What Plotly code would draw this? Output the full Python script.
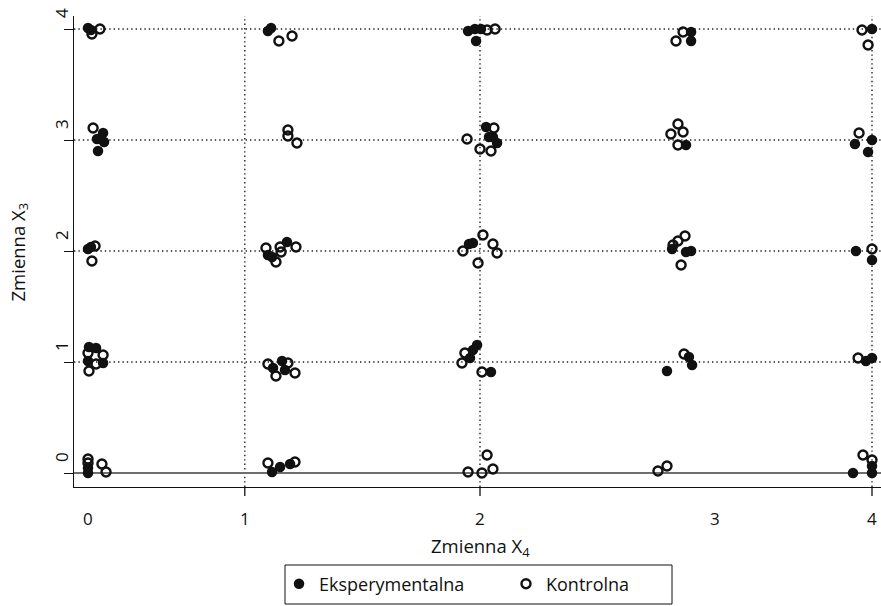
import plotly.graph_objects as go

# Jittered observations: X4 (horizontal) and X3 (vertical) for the two groups
eksp_x = [0.000, 0.015, 0.077, 0.046, 0.082, 0.051, 0.000, 0.015, 0.005, 0.041, 0.000, 0.077, 0.000, 0.000,
          0.918, 0.934, 0.918, 0.939, 1.015, 0.944, 0.990, 1.005, 0.939, 0.980, 1.031,
          1.939, 1.974, 2.005, 1.980, 2.031, 2.046, 2.066, 2.087, 1.944, 1.964, 1.985, 1.964, 1.949, 2.056,
          3.077, 3.077, 3.051, 2.980, 3.051, 3.077, 3.066, 3.082, 2.954,
          4.000, 3.913, 4.000, 3.980, 3.918, 4.000, 3.969, 4.000, 4.000, 4.000, 3.903]
eksp_y = [4.009, 3.991, 3.063, 3.009, 2.982, 2.901, 2.018, 2.036, 1.135, 1.126, 1.009, 0.991, 0.045, 0.000,
          3.982, 4.009, 1.964, 1.946, 2.081, 0.946, 1.009, 0.928, 0.009, 0.054, 0.081,
          3.982, 4.000, 4.000, 3.892, 3.117, 3.027, 3.027, 2.973, 2.063, 2.072, 1.153, 1.108, 1.036, 0.910,
          3.973, 3.892, 2.955, 2.018, 1.991, 2.000, 1.045, 0.973, 0.919,
          4.000, 2.964, 3.000, 2.892, 2.000, 1.919, 1.009, 1.036, 0.063, 0.000, 0.000]

kontr_x = [0.020, 0.061, 0.026, 0.036, 0.020, 0.000, 0.077, 0.041, 0.005, 0.000, 0.000, 0.071, 0.092,
           0.974, 1.041, 1.020, 1.020, 1.066, 0.908, 0.959, 0.980, 0.985, 1.061, 0.918, 0.959, 1.020, 1.056,
           0.918, 1.056,
           2.036, 2.077, 2.071, 1.934, 2.000, 2.056, 2.015, 1.913, 2.066, 2.087, 1.990, 1.923, 1.908, 2.010,
           2.036, 1.939, 2.010, 2.066,
           3.000, 3.036, 2.974, 3.010, 3.036, 3.010, 2.985, 3.010, 3.046, 3.026, 3.041, 2.908, 2.954,
           3.949, 3.980, 3.934, 4.000, 3.929, 3.954, 4.000]
kontr_y = [3.955, 4.000, 3.108, 2.045, 1.910, 1.081, 1.063, 0.982, 0.919, 0.126, 0.090, 0.081, 0.009,
           3.892, 3.937, 3.090, 3.036, 2.973, 2.027, 1.901, 2.036, 1.991, 2.036, 0.982, 0.874, 0.991, 0.901,
           0.090, 0.099,
           3.991, 4.000, 3.108, 3.009, 2.919, 2.901, 2.144, 2.000, 2.063, 1.982, 1.892, 1.081, 0.991, 0.910,
           0.162, 0.009, 0.000, 0.036,
           3.892, 3.973, 3.054, 3.144, 3.072, 2.955, 2.054, 2.090, 2.135, 1.874, 1.072, 0.018, 0.063,
           3.991, 3.856, 3.063, 2.018, 1.036, 0.162, 0.117]

group_names = ["Eksperymentalna", "Kontrolna"]

# Axis labelling
x_label_pos = [0, 0.8, 2, 3.2, 4]
x_label_text = ["0", "1", "2", "3", "4"]
x_grid_pos = [0.8, 2, 4]
y_ticks = [0, 1, 2, 3, 4]
y_grid_pos = [1, 2, 3, 4]

FONT = "Open Sans"
INK = "#111111"
DOTS = dict(color="#222", width=1.4, dash="1.4px,3px")

fig = go.Figure()
fig.add_trace(go.Scatter(
    x=eksp_x, y=eksp_y, mode="markers", name=group_names[0],
    marker=dict(symbol="circle", size=10.5, color=INK, line=dict(width=0)),
))
fig.add_trace(go.Scatter(
    x=kontr_x, y=kontr_y, mode="markers", name=group_names[1],
    marker=dict(symbol="circle-open", size=9, color=INK, line=dict(width=2.4, color=INK)),
))

shapes = []
# dotted reference grid
for yv in y_grid_pos:
    shapes.append(dict(type="line", xref="paper", yref="y", x0=0, x1=1, y0=yv, y1=yv,
                       line=DOTS, layer="below"))
for xv in x_grid_pos:
    shapes.append(dict(type="line", xref="x", yref="paper", x0=xv, x1=xv, y0=0, y1=1,
                       line=DOTS, layer="below"))
    # tick mark below the horizontal axis
    shapes.append(dict(type="line", xref="x", yref="paper", x0=xv, x1=xv, y0=0, y1=-9 / 471,
                       line=dict(color=INK, width=1.3)))
# solid baseline at zero
shapes.append(dict(type="line", xref="paper", yref="y", x0=0, x1=1, y0=0, y1=0,
                   line=dict(color="#6e6e6e", width=2), layer="below"))
# legend frame
shapes.append(dict(type="rect", xref="paper", yref="paper",
                   x0=(285 - 74) / 807, x1=(672 - 74) / 807,
                   y0=(487 - 604) / 471, y1=(487 - 565) / 471,
                   line=dict(color=INK, width=1)))

annotations = []
for xv, txt in zip(x_label_pos, x_label_text):
    annotations.append(dict(x=xv, y=(487 - 518) / 471, xref="x", yref="paper", text=txt,
                            showarrow=False, xanchor="center", yanchor="middle",
                            font=dict(family=FONT, size=17, color=INK)))
for yv in y_ticks:
    annotations.append(dict(x=(61 - 74) / 807, y=yv, xref="paper", yref="y", text=str(yv),
                            showarrow=False, xanchor="center", yanchor="middle", yshift=16,
                            textangle=-90, font=dict(family=FONT, size=17, color=INK)))
annotations.append(dict(x=(480 - 74) / 807, y=(487 - 547) / 471, xref="paper", yref="paper",
                        text="Zmienna X<sub>4</sub>", showarrow=False,
                        xanchor="center", yanchor="middle",
                        font=dict(family=FONT, size=18.5, color=INK)))
annotations.append(dict(x=(18 - 74) / 807, y=0.5, xref="paper", yref="paper",
                        text="Zmienna X<sub>3</sub>", showarrow=False, textangle=-90,
                        xanchor="center", yanchor="middle",
                        font=dict(family=FONT, size=18.5, color=INK)))

fig.update_layout(
    width=881, height=606,
    margin=dict(l=74, r=0, t=16, b=119),
    paper_bgcolor="white", plot_bgcolor="white",
    font=dict(family=FONT, size=18, color=INK),
    shapes=shapes, annotations=annotations,
    showlegend=True,
    legend=dict(orientation="h", x=(279 - 74) / 807, xanchor="left",
                y=(487 - 584) / 471, yanchor="middle",
                bgcolor="rgba(0,0,0,0)", borderwidth=0, entrywidth=182,
                font=dict(family=FONT, size=18, color=INK)),
    xaxis=dict(range=[(74 - 88) / 196, (881 - 88) / 196], showgrid=False, zeroline=False,
               showline=True, linecolor=INK, linewidth=1.3, ticks="",
               showticklabels=False, fixedrange=True),
    yaxis=dict(range=[(473 - 487) / 111, (473 - 16) / 111], showgrid=False, zeroline=False,
               showline=True, linecolor=INK, linewidth=1.3, ticks="outside", ticklen=9,
               tickwidth=1.3, tickcolor=INK, tickvals=y_ticks, showticklabels=False,
               fixedrange=True),
)

fig.write_html("out.html")
